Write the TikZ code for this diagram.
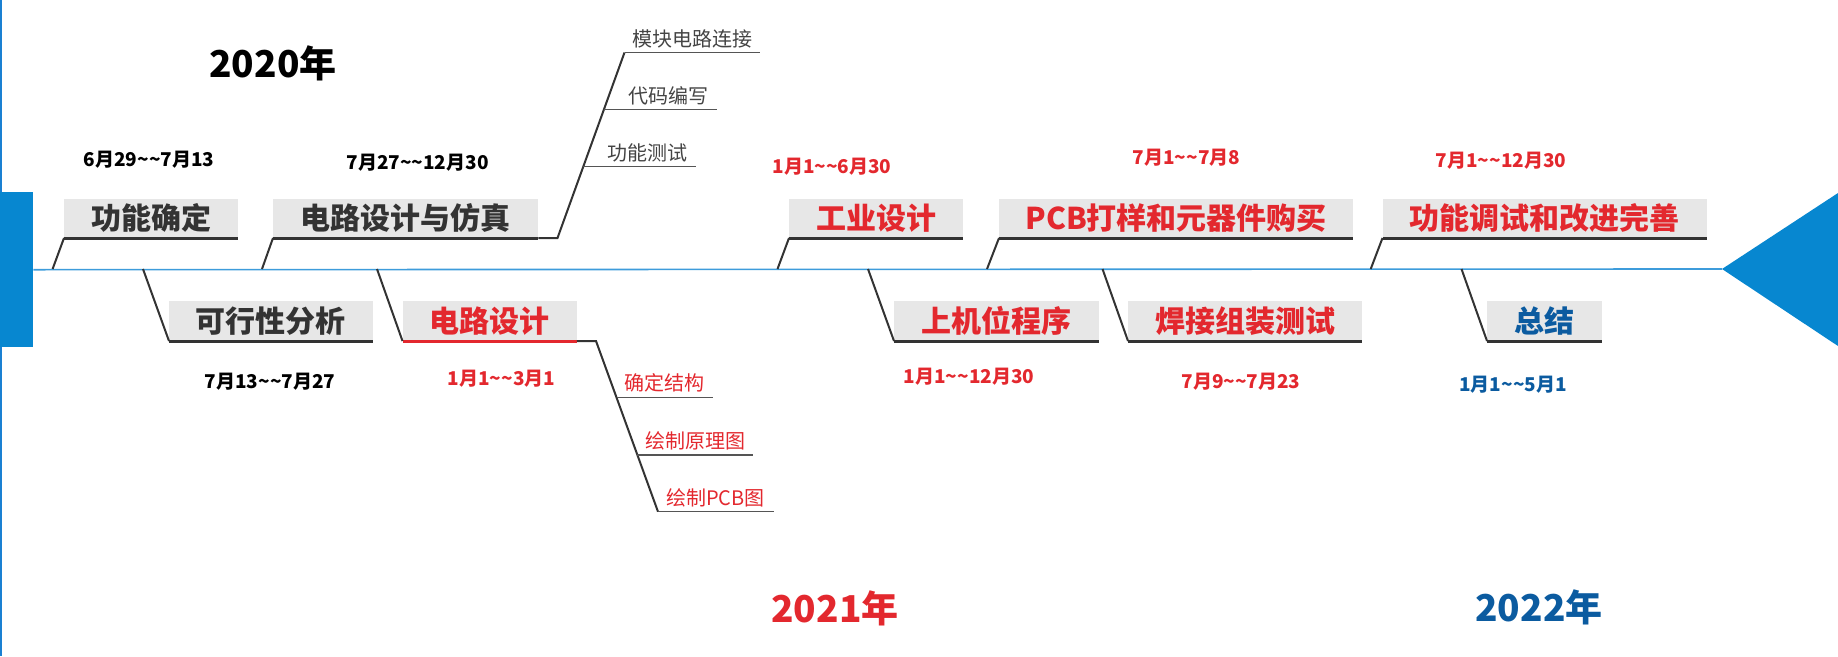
\documentclass[tikz,border=0pt]{standalone}
\usepackage{fontspec}
\setmainfont{Noto Sans CJK SC}
\definecolor{blueM}{HTML}{0787D0}
\definecolor{blueL}{HTML}{1A80D2}
\definecolor{axisC}{HTML}{3D9CDB}
\definecolor{boxfill}{HTML}{E7E7E7}
\definecolor{lineD}{HTML}{333333}
\definecolor{textD}{HTML}{333333}
\definecolor{redC}{HTML}{E3282E}
\definecolor{navy}{HTML}{0B5BA0}
\definecolor{subT}{HTML}{444444}
\definecolor{subL}{HTML}{555555}
\newcommand{\tl}{\textasciitilde}
\tikzset{
  boxnode/.style={fill=boxfill, inner sep=0pt, minimum height=39pt, anchor=south west,
    font=\fontsize{30}{30}\selectfont\bfseries},
  boxline/.style={draw=lineD, line width=3pt},
  slant/.style={draw=lineD, line width=2pt},
  axis/.style={draw=axisC, line width=1.6pt},
  datenode/.style={inner sep=0pt, font=\fontsize{19}{19}\selectfont\bfseries},
  yearnode/.style={inner sep=0pt, font=\fontsize{37}{37}\selectfont\bfseries},
  subnode/.style={inner sep=0pt, font=\fontsize{20}{20}\selectfont},
  subline/.style={draw=subL, line width=1.5pt},
}
\begin{document}
\begin{tikzpicture}[x=1pt,y=-1pt]
\useasboundingbox (0,0) rectangle (1838,656);
% left edge and markers
\draw[blueL, line width=2.2pt] (1,0) -- (1,656);
\node[fill=blueM, inner sep=0pt, minimum width=33pt, minimum height=155pt, anchor=north west] (lrect) at (0,192) {};
\coordinate (tip) at (1722,269);
\coordinate (tr) at (1838,193);
\coordinate (br) at (1838,346);
\fill[blueM] (tip) -- (tr) -- (br) -- cycle;
\draw[axis] (lrect.east) -- (tip);

% years
\node[yearnode, text=black] (y20) at (273,63) {2020年};
\node[yearnode, text=redC] (y21) at (835,608) {2021年};
\node[yearnode, text=navy] (y22) at (1539,607) {2022年};

% feet on axis
\coordinate (f1) at (52.6,269);
\coordinate (f2) at (262,269);
\coordinate (f3) at (777.5,269);
\coordinate (f4) at (987,269);
\coordinate (f5) at (1370.7,269);
\coordinate (f6) at (143,269);
\coordinate (f7) at (377,269);
\coordinate (f8) at (868,269);
\coordinate (f9) at (1102.5,269);
\coordinate (f10) at (1461.5,269);

% top boxes
\node[boxnode, minimum width=174pt, text=textD] (b1) at (64,238) {功能确定};
\node[boxnode, minimum width=265pt, text=textD] (b2) at (273,238) {电路设计与仿真};
\node[boxnode, minimum width=174pt, text=redC] (b3) at (789,238) {工业设计};
\node[boxnode, minimum width=354pt, text=redC] (b4) at (999,238) {PCB打样和元器件购买};
\node[boxnode, minimum width=324pt, text=redC] (b5) at (1382.5,238) {功能调试和改进完善};
% bottom boxes
\node[boxnode, minimum height=40pt, minimum width=203.5pt, text=textD] (b6) at (169,341) {可行性分析};
\node[boxnode, minimum height=40pt, minimum width=174pt, text=redC] (b7) at (402.5,341) {电路设计};
\node[boxnode, minimum height=40pt, minimum width=204.5pt, text=redC] (b8) at (894,341) {上机位程序};
\node[boxnode, minimum height=40pt, minimum width=234pt, text=redC] (b9) at (1128,341) {焊接组装测试};
\node[boxnode, minimum height=40pt, minimum width=115pt, text=navy] (b10) at (1487,341) {总结};

% box bottom lines
\foreach \b in {b1,b2,b3,b4,b5,b6,b8,b9,b10}{
  \draw[boxline] (\b.south west) -- (\b.south east);
}
\draw[boxline, draw=redC] (b7.south west) -- (b7.south east);

% slants from axis
\draw[slant] (f1) -- (b1.south west);
\draw[slant] (f2) -- (b2.south west);
\draw[slant] (f3) -- (b3.south west);
\draw[slant] (f4) -- (b4.south west);
\draw[slant] (f5) -- (b5.south west);
\draw[slant] (f6) -- (b6.south west);
\draw[slant] (f7) -- (b7.south west);
\draw[slant] (f8) -- (b8.south west);
\draw[slant] (f9) -- (b9.south west);
\draw[slant] (f10) -- (b10.south west);

% dates
\node[datenode, text=black] (d1) at (149,160) {6月29\tl\tl7月13};
\node[datenode, text=black] (d2) at (417.5,163) {7月27\tl\tl12月30};
\node[datenode, text=black] (d6) at (270,382) {7月13\tl\tl7月27};
\node[datenode, text=redC] (d7) at (501.5,379) {1月1\tl\tl3月1};
\node[datenode, text=redC] (d3) at (832,167) {1月1\tl\tl6月30};
\node[datenode, text=redC] (d8) at (969,377) {1月1\tl\tl12月30};
\node[datenode, text=redC] (d4) at (1186.5,158) {7月1\tl\tl7月8};
\node[datenode, text=redC] (d9) at (1241,382) {7月9\tl\tl7月23};
\node[datenode, text=redC] (d5) at (1501,161) {7月1\tl\tl12月30};
\node[datenode, text=navy] (d10) at (1513,385) {1月1\tl\tl5月1};

% sub items of b2 (top)
\coordinate (t0) at (557.5,238);
\coordinate (t1a) at (624.5,52.5); \coordinate (t1b) at (760,52.5);
\coordinate (t2a) at (604,109.5);  \coordinate (t2b) at (716.5,109.5);
\coordinate (t3a) at (583,166.7);  \coordinate (t3b) at (695.6,166.7);
\draw[slant] (b2.south east) -- (t0) -- (t1a);
\draw[subline] (t1a) -- (t1b);
\draw[subline] (t2a) -- (t2b);
\draw[subline] (t3a) -- (t3b);
\node[subnode, text=subT] (s1) at (692,39) {模块电路连接};
\node[subnode, text=subT] (s2) at (668,96) {代码编写};
\node[subnode, text=subT] (s3) at (647.5,153) {功能测试};

% sub items of b7 (bottom)
\coordinate (u0) at (596,341);
\coordinate (u1a) at (616.7,397.7); \coordinate (u1b) at (713.3,397.7);
\coordinate (u2a) at (637,455);     \coordinate (u2b) at (753,455);
\coordinate (u3a) at (658,511.7);   \coordinate (u3b) at (774,511.7);
\draw[slant] (b7.south east) -- (u0) -- (u3a);
\draw[subline] (u1a) -- (u1b);
\draw[subline] (u2a) -- (u2b);
\draw[subline] (u3a) -- (u3b);
\node[subnode, text=redC] (r1) at (664.7,383) {确定结构};
\node[subnode, text=redC] (r2) at (695,441) {绘制原理图};
\node[subnode, text=redC] (r3) at (715.5,498) {绘制PCB图};
\end{tikzpicture}
\end{document}
